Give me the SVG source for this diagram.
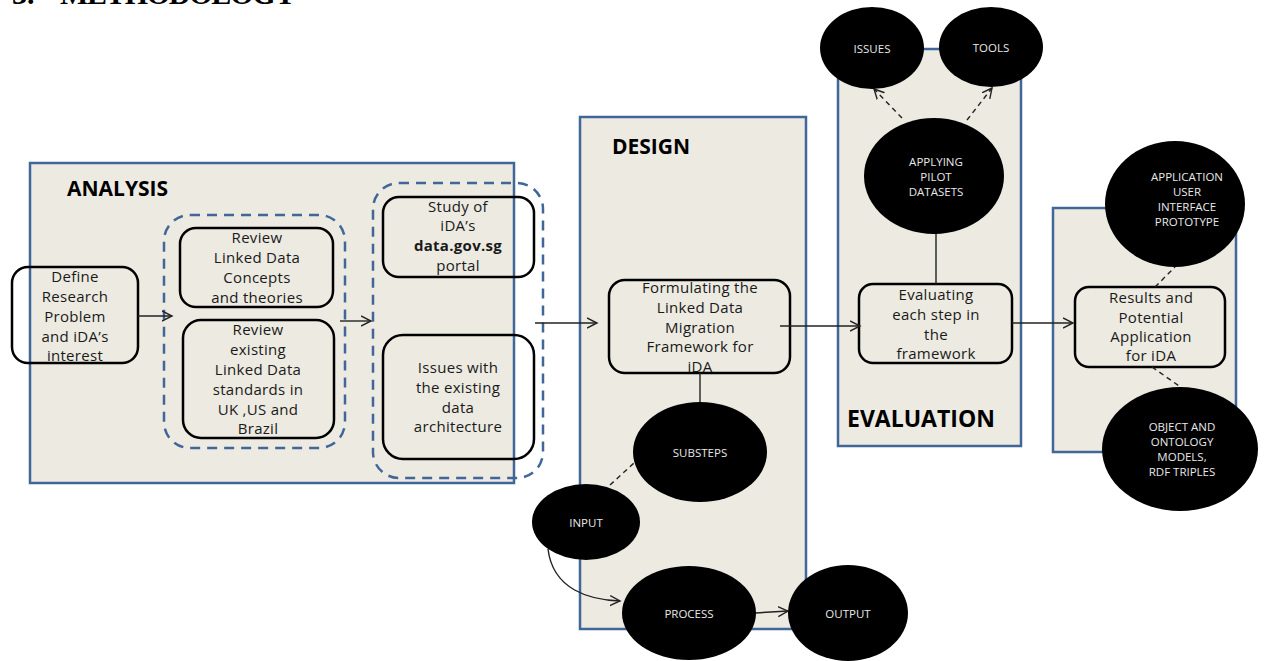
<svg xmlns="http://www.w3.org/2000/svg" width="1272" height="661" viewBox="0 0 1272 661">
<defs>
<marker id="arr" markerWidth="12" markerHeight="12" refX="10" refY="5" orient="auto" markerUnits="userSpaceOnUse" viewBox="0 0 12 10">
<path d="M0,0 L10,5 L0,10" fill="none" stroke="#222" stroke-width="1.4"/>
</marker>
<style>
.phase{fill:#ECEAE1;stroke:#41679A;stroke-width:2.5}
.dash{fill:none;stroke:#41679A;stroke-width:2.5;stroke-dasharray:10,7}
.box{fill:none;stroke:#000;stroke-width:2.5}
.oval{fill:#000}
.t{font-family:"Open Sans","DejaVu Sans",sans-serif;font-size:15px;letter-spacing:0.3px;fill:#1a1a1a;text-anchor:middle}
.w{font-family:"Open Sans","DejaVu Sans",sans-serif;font-size:11.5px;fill:#e8e8e8;text-anchor:middle}
.h{font-family:"Open Sans","DejaVu Sans",sans-serif;font-weight:bold;fill:#000}
.ln{fill:none;stroke:#222;stroke-width:1.4}
.dl{fill:none;stroke:#222;stroke-width:1.4;stroke-dasharray:5,4}
.title{font-family:"Liberation Serif",serif;font-weight:bold;font-size:30px;fill:#000}
</style>
</defs>
<rect width="1272" height="661" fill="#fff"/>
<text class="title" x="12" y="4">3.</text>
<text class="title" x="60" y="4" textLength="236" lengthAdjust="spacing">METHODOLOGY</text>

<g id="analysis">
<rect class="phase" x="30" y="163" width="484" height="320"/>
<text class="h" x="67" y="196" font-size="21">ANALYSIS</text>
</g>
<g id="design">
<rect class="phase" x="580" y="117" width="226" height="512"/>
<text class="h" x="612" y="154" font-size="21">DESIGN</text>
</g>
<g id="evaluation">
<rect class="phase" x="838" y="49" width="183" height="397"/>
<text class="h" x="847" y="427" font-size="23">EVALUATION</text>
</g>
<g id="results-phase">
<rect class="phase" x="1053" y="208" width="183" height="244"/>
</g>

<g id="group1"><rect class="dash" x="164" y="215" width="181" height="233" rx="26"/></g>
<g id="group2"><rect class="dash" x="373" y="183" width="170" height="295" rx="26"/></g>

<g id="define">
<rect class="box" x="12" y="267" width="126" height="96" rx="16"/>
<text class="t" x="75" y="282">Define</text>
<text class="t" x="75" y="302">Research</text>
<text class="t" x="75" y="322">Problem</text>
<text class="t" x="75" y="342">and iDA’s</text>
<text class="t" x="75" y="361">interest</text>
</g>
<g id="review1">
<rect class="box" x="180" y="228" width="153" height="79" rx="16"/>
<text class="t" x="257" y="243">Review</text>
<text class="t" x="257" y="263">Linked Data</text>
<text class="t" x="257" y="283">Concepts</text>
<text class="t" x="257" y="303">and theories</text>
</g>
<g id="review2">
<rect class="box" x="183" y="320" width="151" height="118" rx="18"/>
<text class="t" x="258" y="335">Review</text>
<text class="t" x="258" y="355">existing</text>
<text class="t" x="258" y="375">Linked Data</text>
<text class="t" x="258" y="395">standards in</text>
<text class="t" x="258" y="415">UK ,US and</text>
<text class="t" x="258" y="434">Brazil</text>
</g>
<g id="study">
<rect class="box" x="383" y="197" width="151" height="80" rx="16"/>
<text class="t" x="458" y="212">Study of</text>
<text class="t" x="458" y="231">iDA’s</text>
<text class="t" x="458" y="251" font-weight="bold">data.gov.sg</text>
<text class="t" x="458" y="271">portal</text>
</g>
<g id="issues-arch">
<rect class="box" x="383" y="335" width="151" height="124" rx="20"/>
<text class="t" x="458" y="373">Issues with</text>
<text class="t" x="458" y="393">the existing</text>
<text class="t" x="458" y="413">data</text>
<text class="t" x="458" y="432">architecture</text>
</g>
<g id="formulating">
<rect class="box" x="609" y="280" width="181" height="93" rx="16"/>
<text class="t" x="700" y="293">Formulating the</text>
<text class="t" x="700" y="313">Linked Data</text>
<text class="t" x="700" y="333">Migration</text>
<text class="t" x="700" y="352">Framework for</text>
<text class="t" x="700" y="372">iDA</text>
</g>
<g id="evaluating">
<rect class="box" x="859" y="284" width="153" height="79" rx="14"/>
<text class="t" x="936" y="300">Evaluating</text>
<text class="t" x="936" y="320">each step in</text>
<text class="t" x="936" y="340">the</text>
<text class="t" x="936" y="359">framework</text>
</g>
<g id="results">
<rect class="box" x="1075" y="287" width="150" height="80" rx="14"/>
<text class="t" x="1151" y="303">Results and</text>
<text class="t" x="1151" y="323">Potential</text>
<text class="t" x="1151" y="342">Application</text>
<text class="t" x="1151" y="361">for iDA</text>
</g>

<g id="connectors">
<line class="ln" x1="138" y1="316" x2="172" y2="316" marker-end="url(#arr)"/>
<line class="ln" x1="340" y1="321" x2="371" y2="321" marker-end="url(#arr)"/>
<line class="ln" x1="535" y1="323" x2="597" y2="323" marker-end="url(#arr)"/>
<line class="ln" x1="780" y1="326" x2="860" y2="326" marker-end="url(#arr)"/>
<line class="ln" x1="1012" y1="323" x2="1073" y2="323" marker-end="url(#arr)"/>
<line class="ln" x1="700" y1="373" x2="700" y2="404"/>
<line class="ln" x1="936" y1="233" x2="936" y2="284"/>
<line class="dl" x1="610" y1="485" x2="634" y2="463"/>
<path class="ln" d="M548,549 C553,590 590,600 620,601" marker-end="url(#arr)"/>
<line class="ln" x1="755" y1="613" x2="788" y2="611" marker-end="url(#arr)"/>
<line class="dl" x1="902" y1="118" x2="874" y2="89" marker-end="url(#arr)"/>
<line class="dl" x1="967" y1="120" x2="992" y2="88" marker-end="url(#arr)"/>
<line class="dl" x1="1155" y1="287" x2="1175" y2="267"/>
<line class="dl" x1="1152" y1="367" x2="1182" y2="388"/>
</g>

<g id="substeps"><ellipse class="oval" cx="700" cy="452" rx="67" ry="50"/><text class="w" x="700" y="457">SUBSTEPS</text></g>
<g id="input"><ellipse class="oval" cx="586" cy="522" rx="54" ry="38"/><text class="w" x="586" y="527">INPUT</text></g>
<g id="process"><ellipse class="oval" cx="689" cy="613" rx="67" ry="47"/><text class="w" x="689" y="618">PROCESS</text></g>
<g id="output"><ellipse class="oval" cx="848" cy="613" rx="60" ry="48"/><text class="w" x="848" y="618">OUTPUT</text></g>
<g id="issues"><ellipse class="oval" cx="872" cy="48" rx="52" ry="41"/><text class="w" x="872" y="53">ISSUES</text></g>
<g id="tools"><ellipse class="oval" cx="991" cy="47" rx="52" ry="40"/><text class="w" x="991" y="52">TOOLS</text></g>
<g id="applying"><ellipse class="oval" cx="934" cy="176" rx="70" ry="58"/>
<text class="w" x="936" y="166">APPLYING</text><text class="w" x="936" y="181">PILOT</text><text class="w" x="936" y="196">DATASETS</text></g>
<g id="application"><ellipse class="oval" cx="1175" cy="204" rx="70" ry="63"/>
<text class="w" x="1187" y="181">APPLICATION</text><text class="w" x="1187" y="196">USER</text><text class="w" x="1187" y="211">INTERFACE</text><text class="w" x="1187" y="226">PROTOTYPE</text></g>
<g id="object"><ellipse class="oval" cx="1180" cy="449" rx="78" ry="62"/>
<text class="w" x="1182" y="431">OBJECT AND</text><text class="w" x="1182" y="446">ONTOLOGY</text><text class="w" x="1182" y="461">MODELS,</text><text class="w" x="1182" y="476">RDF TRIPLES</text></g>
</svg>
